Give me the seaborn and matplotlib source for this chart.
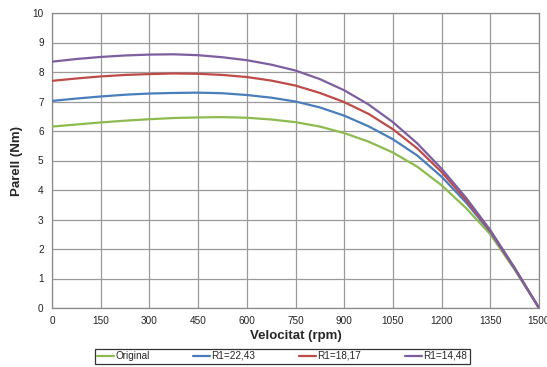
import matplotlib
matplotlib.use("Agg")
import matplotlib.pyplot as plt
import seaborn as sns
import pandas as pd

rpm = [0, 75, 150, 225, 300, 375, 450, 525, 600, 675, 750, 825, 900, 975,
       1050, 1125, 1200, 1275, 1350, 1425, 1500]
original = [6.15, 6.22, 6.29, 6.35, 6.40, 6.44, 6.46, 6.47, 6.45, 6.39, 6.30,
            6.15, 5.93, 5.64, 5.27, 4.79, 4.16, 3.39, 2.50, 1.30, 0.0]
r1_2243 = [7.02, 7.10, 7.17, 7.23, 7.27, 7.29, 7.30, 7.28, 7.22, 7.13, 7.00,
           6.80, 6.52, 6.16, 5.72, 5.17, 4.45, 3.58, 2.58, 1.33, 0.0]
r1_1817 = [7.70, 7.78, 7.85, 7.90, 7.93, 7.95, 7.94, 7.90, 7.83, 7.71, 7.54,
           7.29, 6.98, 6.58, 6.06, 5.41, 4.61, 3.66, 2.61, 1.35, 0.0]
r1_1448 = [8.35, 8.44, 8.51, 8.56, 8.59, 8.60, 8.57, 8.50, 8.40, 8.25, 8.05,
           7.76, 7.38, 6.90, 6.30, 5.58, 4.72, 3.74, 2.64, 1.36, 0.0]
series_names = ["Original", "R1=22,43", "R1=18,17", "R1=14,48"]
colors = ["#8DBB4F", "#4A7EBB", "#BE4B48", "#7D5FA0"]
x_ticks = [0, 150, 300, 450, 600, 750, 900, 1050, 1200, 1350, 1500]
y_ticks = list(range(0, 11))

frames = []
for name, vals in zip(series_names, [original, r1_2243, r1_1817, r1_1448]):
    frames.append(pd.DataFrame({"Velocitat": rpm, "Parell": vals, "Serie": name}))
df = pd.concat(frames, ignore_index=True)

sns.set_style("white")
plt.rcParams["font.family"] = ["Liberation Sans", "DejaVu Sans"]

fig = plt.figure(figsize=(5.47, 3.67), dpi=100)
ax = fig.add_axes([52 / 547, 1 - 308 / 367, 487 / 547, 295 / 367])

sns.lineplot(data=df, x="Velocitat", y="Parell", hue="Serie",
             palette=dict(zip(series_names, colors)), hue_order=series_names,
             linewidth=1.6, ax=ax, legend=False, zorder=3)

ax.set_xlim(0, 1500)
ax.set_ylim(0, 10)
ax.set_xticks(x_ticks)
ax.set_yticks(y_ticks)
ax.tick_params(axis="both", length=0, labelsize=7.2, colors="#222222", pad=6)
ax.grid(True, color="#9a9a9a", linewidth=0.9)
for sp in ax.spines.values():
    sp.set_color("#8a8a8a")
    sp.set_linewidth(0.9)

ax.set_xlabel("Velocitat (rpm)", fontsize=9.5, fontweight="bold", labelpad=3)
ax.set_ylabel("Parell (Nm)", fontsize=9.5, fontweight="bold", labelpad=7)

handles = [plt.Line2D([], [], color=c, linewidth=1.6) for c in colors]
leg = fig.legend(handles, series_names, loc="center",
                 bbox_to_anchor=(282 / 547, 1 - 356 / 367), ncol=4,
                 fontsize=7.2, frameon=True, fancybox=False,
                 handlelength=1.7, handletextpad=0.1, columnspacing=4.4,
                 borderpad=0.25, borderaxespad=0)
leg.get_frame().set_edgecolor("black")
leg.get_frame().set_linewidth(0.9)

fig.savefig("out.png", dpi=100)
